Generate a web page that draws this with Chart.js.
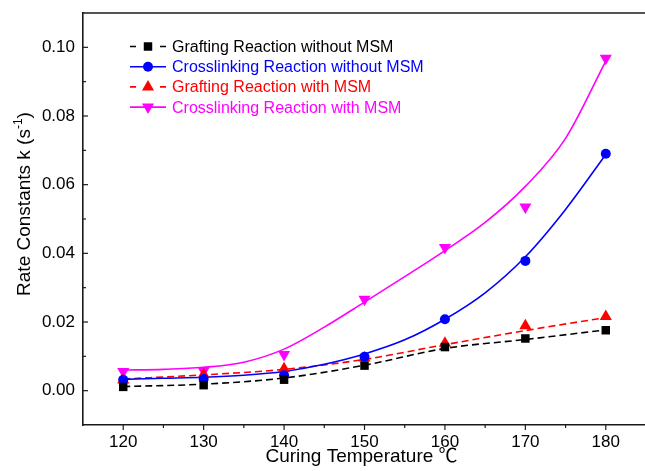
<!DOCTYPE html>
<html lang="en">

<head>
  <meta charset="UTF-8">
  <title>Rate Constants vs Curing Temperature</title>
  <script src="https://cdn.jsdelivr.net/npm/chart.js@4"></script>
  <style>
    html, body { margin: 0; padding: 0; background: #fff; overflow: hidden; }
  </style>
</head>

<body>
  <!-- a moldura do gráfico continua um pouco além da borda direita da janela -->
  <canvas id="graficoK" width="653" height="471"></canvas>

<script>
  // temperaturas medidas (°C)
  const temps = [120, 130, 140, 150, 160, 170, 180];

  const graftNoMsm = [0.0011, 0.0016, 0.0032, 0.0073, 0.0127, 0.0152, 0.0176];
  const crossNoMsm = [0.0032, 0.0034, 0.0045, 0.0099, 0.0208, 0.0378, 0.0690];
  const graftMsm   = [0.0031, 0.0047, 0.0064, 0.0095, 0.0138, 0.0189, 0.0216];
  const crossMsm   = [0.0056, 0.0058, 0.0105, 0.0266, 0.0417, 0.0535, 0.0968];

  // curvas de ajuste (tracejadas nos pontos medidos, contínuas a cada 5 °C)
  const graftNoMsmFit = [0.0012, 0.0019, 0.0037, 0.0074, 0.0123, 0.0149, 0.0177];
  const graftMsmFit   = [0.0034, 0.0046, 0.0062, 0.0091, 0.0134, 0.0175, 0.0213];
  const fitTemps = [120, 125, 130, 135, 140, 145, 150, 155, 160, 165, 170, 175, 180];
  const crossNoMsmFit = [0.0033, 0.0036, 0.0039, 0.0045, 0.0056, 0.0077, 0.0107, 0.0148, 0.0208, 0.0285, 0.0390, 0.0528, 0.0688];
  const crossMsmFit   = [0.0060, 0.0062, 0.0068, 0.0083, 0.0121, 0.0185, 0.0258, 0.0332, 0.0408, 0.0490, 0.0595, 0.0735, 0.0960];

  const seriesNames = [
    'Grafting Reaction without MSM',
    'Crosslinking Reaction without MSM',
    'Grafting Reaction with MSM',
    'Crosslinking Reaction with MSM'
  ];

  // eixos
  const xTicks = [120, 130, 140, 150, 160, 170, 180];
  const xMinorTicks = [125, 135, 145, 155, 165, 175];
  const yTicks = [0, 0.02, 0.04, 0.06, 0.08, 0.10];
  const yMinorTicks = [0.01, 0.03, 0.05, 0.07, 0.09];

  const FONT = '"Liberation Sans", Arial, sans-serif';

  function pares(xs, ys) {
    return xs.map((x, i) => ({ x: x, y: ys[i] }));
  }

  // estilos de cada série (cor, marcador, tracejado)
  const estilos = [
    { cor: '#000000', marcador: 'rect', raio: 6, rot: 0, dash: [7, 4] },
    { cor: '#0000ff', marcador: 'circle', raio: 5, rot: 0, dash: [] },
    { cor: '#ff0000', marcador: 'triangle', raio: 7, rot: 0, dash: [7, 4] },
    { cor: '#ff00ff', marcador: 'triangle', raio: 7, rot: 180, dash: [] }
  ];

  const pontos = [graftNoMsm, crossNoMsm, graftMsm, crossMsm];
  const ajustes = [
    pares(temps, graftNoMsmFit),
    pares(fitTemps, crossNoMsmFit),
    pares(temps, graftMsmFit),
    pares(fitTemps, crossMsmFit)
  ];

  let datasets = [];
  for (let i = 0; i < 4; i++) {
    let e = estilos[i];
    // linha de ajuste
    datasets.push({
      label: seriesNames[i] + ' (fit)',
      data: ajustes[i],
      borderColor: e.cor,
      borderWidth: 1.6,
      borderDash: e.dash,
      pointRadius: 0,
      cubicInterpolationMode: 'monotone',
      fill: false,
      order: 2
    });
    // pontos medidos
    datasets.push({
      label: seriesNames[i],
      data: pares(temps, pontos[i]),
      showLine: false,
      pointStyle: e.marcador,
      pointRotation: e.rot,
      pointRadius: e.raio,
      pointHoverRadius: e.raio,
      pointBackgroundColor: e.cor,
      pointBorderColor: e.cor,
      pointBorderWidth: 0,
      order: 1
    });
  }

  // desenha um marcador no contexto (usado na legenda)
  function marcador(ctx, e, x, y) {
    ctx.save();
    ctx.fillStyle = e.cor;
    ctx.beginPath();
    if (e.marcador === 'rect') {
      let s = e.raio * Math.SQRT1_2;
      ctx.rect(x - s, y - s, 2 * s, 2 * s);
    } else if (e.marcador === 'circle') {
      ctx.arc(x, y, e.raio, 0, Math.PI * 2);
    } else {
      let ang = e.rot * Math.PI / 180;
      for (let k = 0; k < 3; k++) {
        let a = ang + k * 2 * Math.PI / 3;
        let px = x + Math.sin(a) * e.raio;
        let py = y - Math.cos(a) * e.raio;
        if (k === 0) ctx.moveTo(px, py); else ctx.lineTo(px, py);
      }
      ctx.closePath();
    }
    ctx.fill();
    ctx.restore();
  }

  const molduraPlugin = {
    id: 'moldura',
    afterDraw(chart) {
      const ctx = chart.ctx;
      const a = chart.chartArea;
      const sx = chart.scales.x;
      const sy = chart.scales.y;
      ctx.save();
      ctx.strokeStyle = '#1a1a1a';
      ctx.lineWidth = 1.6;
      // linha superior
      ctx.beginPath();
      ctx.moveTo(a.left, a.top);
      ctx.lineTo(a.right, a.top);
      ctx.stroke();

      ctx.lineWidth = 1.2;
      // marcas do eixo x (para fora)
      xTicks.forEach(v => {
        let px = sx.getPixelForValue(v);
        ctx.beginPath(); ctx.moveTo(px, a.bottom); ctx.lineTo(px, a.bottom + 5); ctx.stroke();
      });
      xMinorTicks.forEach(v => {
        let px = sx.getPixelForValue(v);
        ctx.beginPath(); ctx.moveTo(px, a.bottom); ctx.lineTo(px, a.bottom + 3); ctx.stroke();
      });
      // marcas do eixo y (para dentro)
      yTicks.forEach(v => {
        let py = sy.getPixelForValue(v);
        ctx.beginPath(); ctx.moveTo(a.left, py); ctx.lineTo(a.left + 5, py); ctx.stroke();
      });
      yMinorTicks.forEach(v => {
        let py = sy.getPixelForValue(v);
        ctx.beginPath(); ctx.moveTo(a.left, py); ctx.lineTo(a.left + 3, py); ctx.stroke();
      });

      // título do eixo x (o símbolo ℃ vem da fonte CJK)
      ctx.fillStyle = '#000';
      ctx.textBaseline = 'alphabetic';
      ctx.textAlign = 'left';
      let tx = 'Curing Temperature ';
      ctx.font = '19px ' + FONT;
      let wx = ctx.measureText(tx).width;
      ctx.font = '19px "Noto Sans CJK SC", ' + FONT;
      let wc = ctx.measureText('\u2103').width;
      let xStart = (a.left + a.right) / 2 - 3 - (wx + wc) / 2;
      ctx.font = '19px ' + FONT;
      ctx.fillText(tx, xStart, 462);
      ctx.font = '19px "Noto Sans CJK SC", ' + FONT;
      ctx.fillText('\u2103', xStart + wx, 462);

      // título do eixo y com expoente
      ctx.translate(30, 204);
      ctx.rotate(-Math.PI / 2);
      let t1 = 'Rate Constants k (s', t2 = '-1', t3 = ')';
      ctx.font = '19px ' + FONT;
      let w1 = ctx.measureText(t1).width;
      let w3 = ctx.measureText(t3).width;
      ctx.font = '12px ' + FONT;
      let w2 = ctx.measureText(t2).width;
      let x0 = -(w1 + w2 + w3) / 2;
      ctx.font = '19px ' + FONT;
      ctx.fillText(t1, x0, 0);
      ctx.font = '12px ' + FONT;
      ctx.fillText(t2, x0 + w1, -8);
      ctx.font = '19px ' + FONT;
      ctx.fillText(t3, x0 + w1 + w2, 0);
      ctx.restore();
    }
  };

  const legendaPlugin = {
    id: 'legendaInterna',
    afterDatasetsDraw(chart) {
      const ctx = chart.ctx;
      ctx.save();
      ctx.font = '16px ' + FONT;
      ctx.textBaseline = 'middle';
      ctx.textAlign = 'left';
      for (let i = 0; i < seriesNames.length; i++) {
        let e = estilos[i];
        let y = 46.5 + i * 20.2;
        ctx.strokeStyle = e.cor;
        ctx.lineWidth = 1.6;
        ctx.beginPath();
        if (e.dash.length) {
          ctx.moveTo(130, y); ctx.lineTo(136, y);
          ctx.moveTo(160, y); ctx.lineTo(166, y);
        } else {
          ctx.moveTo(130, y); ctx.lineTo(166, y);
        }
        ctx.stroke();
        marcador(ctx, e, 148, y);
        ctx.fillStyle = e.cor;
        ctx.fillText(seriesNames[i], 172, y + 1);
      }
      ctx.restore();
    }
  };

  const config = {
    type: 'line',
    data: { datasets: datasets },
    options: {
      responsive: false,
      animation: false,
      events: [],
      layout: { padding: { top: 13, left: 0, right: 0, bottom: 0 } },
      plugins: {
        legend: { display: false },
        tooltip: { enabled: false }
      },
      scales: {
        x: {
          type: 'linear',
          min: 115,
          max: 185,
          afterBuildTicks: (s) => { s.ticks = xTicks.map(v => ({ value: v })); },
          afterFit: (s) => { s.height = 46; s.paddingLeft = 0; s.paddingRight = 0; },
          grid: { drawOnChartArea: false, drawTicks: false },
          border: { display: true, color: '#1a1a1a', width: 1.6 },
          ticks: {
            color: '#000',
            padding: 7,
            maxRotation: 0,
            font: { family: FONT, size: 17 },
            callback: (v) => String(v)
          }
        },
        y: {
          type: 'linear',
          min: -0.01,
          max: 0.11,
          afterBuildTicks: (s) => { s.ticks = yTicks.map(v => ({ value: v })); },
          afterFit: (s) => { s.width = 83; s.paddingTop = 0; s.paddingBottom = 0; },
          grid: { drawOnChartArea: false, drawTicks: false },
          border: { display: true, color: '#1a1a1a', width: 1.6 },
          ticks: {
            color: '#000',
            padding: 8,
            font: { family: FONT, size: 17 },
            callback: (v) => Number(v).toFixed(2)
          }
        }
      }
    },
    plugins: [molduraPlugin, legendaPlugin]
  };

  let grafico = new Chart(document.getElementById('graficoK'), config);
</script>
</body>

</html>
